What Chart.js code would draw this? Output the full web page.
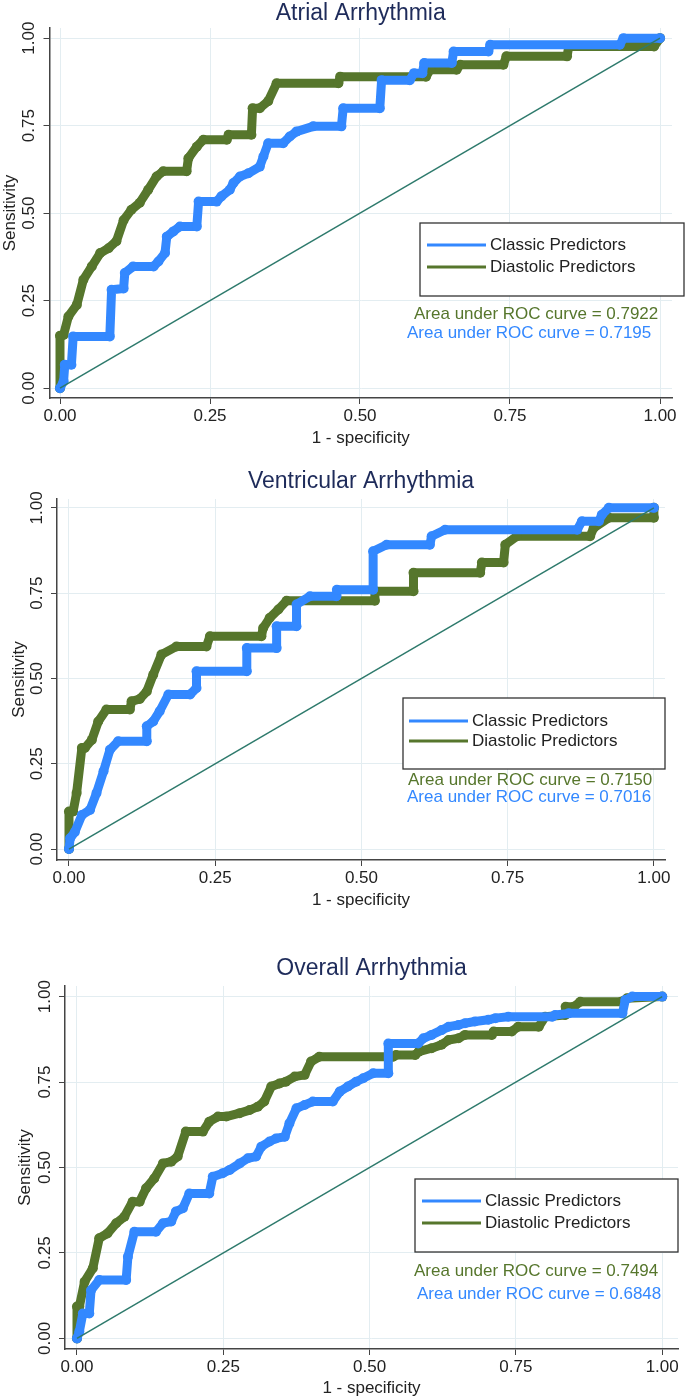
<!DOCTYPE html>
<html>
<head>
<meta charset="utf-8">
<title>ROC curves - arrhythmia</title>
<script src="https://cdn.jsdelivr.net/npm/chart.js@4.4.1/dist/chart.umd.min.js"></script>
<style>
  html, body { margin: 0; padding: 0; background: #fff; }
  .panel { position: absolute; left: 0; width: 685px; }
</style>
</head>
<body>
<div class="panel" style="top:0;height:455px"><canvas id="atrial"></canvas></div>
<div class="panel" style="top:460px;height:455px"><canvas id="ventricular"></canvas></div>
<div class="panel" style="top:950px;height:450px"><canvas id="overall"></canvas></div>
<script>
// axis ticks
const tickValues = [0, 0.25, 0.5, 0.75, 1];
const tickLabels = ['0.00', '0.25', '0.50', '0.75', '1.00'];

const seriesNames = ['Classic Predictors', 'Diastolic Predictors'];
const panelTitles = ['Atrial Arrhythmia', 'Ventricular Arrhythmia', 'Overall Arrhythmia'];
const aucClassic = [0.7195, 0.7016, 0.6848];
const aucDiastolic = [0.7922, 0.7150, 0.7494];

// reference (chance) line
const chanceLine = [[0, 0], [1, 1]];

// ROC points, [1 - specificity, sensitivity]
const atrialClassic = [[0,0],[0.006,0.02],[0.008,0.067],[0.019,0.067],[0.022,0.148],[0.083,0.148],[0.086,0.281],[0.106,0.285],[0.108,0.329],[0.122,0.348],[0.156,0.348],[0.164,0.362],[0.175,0.386],[0.178,0.433],[0.189,0.448],[0.2,0.462],[0.228,0.462],[0.231,0.533],[0.261,0.533],[0.269,0.548],[0.283,0.567],[0.289,0.586],[0.3,0.605],[0.314,0.614],[0.333,0.633],[0.339,0.662],[0.347,0.70],[0.372,0.70],[0.383,0.719],[0.394,0.733],[0.422,0.748],[0.469,0.748],[0.472,0.80],[0.533,0.80],[0.536,0.88],[0.583,0.88],[0.59,0.90],[0.604,0.90],[0.607,0.929],[0.653,0.929],[0.656,0.962],[0.714,0.962],[0.717,0.981],[0.933,0.981],[0.939,1],[1,1]];
const atrialDiastolic = [[0,0],[0,0.15],[0.006,0.152],[0.014,0.205],[0.028,0.238],[0.039,0.31],[0.053,0.348],[0.067,0.386],[0.081,0.40],[0.094,0.42],[0.106,0.48],[0.119,0.51],[0.133,0.53],[0.147,0.567],[0.161,0.605],[0.172,0.62],[0.211,0.62],[0.214,0.657],[0.228,0.69],[0.239,0.71],[0.278,0.71],[0.281,0.724],[0.319,0.724],[0.321,0.80],[0.333,0.80],[0.347,0.82],[0.361,0.871],[0.464,0.871],[0.467,0.89],[0.61,0.89],[0.617,0.91],[0.661,0.91],[0.667,0.924],[0.739,0.924],[0.744,0.948],[0.845,0.948],[0.848,0.976],[0.99,0.976],[1,1]];

const ventricularClassic = [[0,0],[0.002,0.032],[0.01,0.05],[0.022,0.10],[0.036,0.115],[0.047,0.164],[0.059,0.228],[0.07,0.291],[0.084,0.316],[0.133,0.316],[0.133,0.36],[0.144,0.374],[0.155,0.404],[0.17,0.453],[0.207,0.453],[0.218,0.472],[0.218,0.521],[0.304,0.521],[0.304,0.589],[0.355,0.589],[0.355,0.653],[0.389,0.653],[0.389,0.717],[0.412,0.741],[0.457,0.741],[0.458,0.76],[0.52,0.76],[0.52,0.873],[0.543,0.892],[0.617,0.892],[0.62,0.917],[0.643,0.936],[0.869,0.936],[0.877,0.961],[0.906,0.961],[0.911,0.98],[0.923,1],[1,1]];
const ventricularDiastolic = [[0,0],[0,0.11],[0.007,0.11],[0.013,0.164],[0.022,0.296],[0.027,0.296],[0.039,0.32],[0.05,0.374],[0.064,0.409],[0.104,0.409],[0.107,0.433],[0.121,0.44],[0.133,0.462],[0.144,0.511],[0.158,0.57],[0.184,0.594],[0.235,0.594],[0.241,0.624],[0.329,0.624],[0.332,0.648],[0.343,0.677],[0.358,0.702],[0.372,0.728],[0.523,0.728],[0.523,0.756],[0.589,0.756],[0.589,0.81],[0.703,0.81],[0.706,0.84],[0.743,0.84],[0.746,0.892],[0.766,0.917],[0.891,0.917],[0.897,0.941],[0.923,0.971],[1,0.971],[1,1]];

const overallClassic = [[0,0],[0.004,0.02],[0.01,0.073],[0.021,0.073],[0.024,0.141],[0.038,0.171],[0.084,0.171],[0.087,0.239],[0.098,0.312],[0.135,0.312],[0.147,0.337],[0.161,0.342],[0.169,0.371],[0.181,0.381],[0.192,0.424],[0.226,0.424],[0.232,0.473],[0.249,0.483],[0.261,0.493],[0.278,0.512],[0.292,0.527],[0.306,0.532],[0.315,0.561],[0.329,0.576],[0.34,0.585],[0.355,0.59],[0.363,0.629],[0.375,0.673],[0.389,0.683],[0.403,0.693],[0.437,0.693],[0.449,0.722],[0.463,0.737],[0.477,0.751],[0.489,0.761],[0.506,0.776],[0.532,0.776],[0.532,0.863],[0.583,0.863],[0.592,0.878],[0.606,0.888],[0.623,0.902],[0.635,0.912],[0.652,0.917],[0.663,0.922],[0.68,0.927],[0.703,0.932],[0.715,0.937],[0.737,0.941],[0.812,0.941],[0.817,0.946],[0.84,0.951],[0.932,0.951],[0.937,0.99],[0.949,1],[1,1]];
const overallDiastolic = [[0,0],[0,0.093],[0.004,0.093],[0.013,0.166],[0.027,0.205],[0.038,0.293],[0.052,0.307],[0.067,0.337],[0.081,0.356],[0.095,0.40],[0.107,0.40],[0.118,0.439],[0.132,0.468],[0.147,0.512],[0.161,0.517],[0.172,0.532],[0.186,0.605],[0.215,0.605],[0.226,0.634],[0.241,0.649],[0.255,0.649],[0.278,0.659],[0.295,0.668],[0.309,0.678],[0.32,0.693],[0.332,0.737],[0.346,0.746],[0.357,0.751],[0.372,0.766],[0.389,0.771],[0.4,0.81],[0.414,0.824],[0.54,0.824],[0.545,0.829],[0.578,0.829],[0.584,0.839],[0.606,0.849],[0.623,0.859],[0.635,0.873],[0.652,0.878],[0.663,0.888],[0.709,0.888],[0.712,0.898],[0.743,0.898],[0.754,0.912],[0.789,0.912],[0.80,0.941],[0.834,0.946],[0.835,0.97],[0.849,0.97],[0.86,0.985],[0.93,0.985],[0.94,0.995],[1,1]];

const BLUE = '#3388ff';
const GREEN = '#56762c';
const TEAL = '#2e7a6c';
const FONT = '"Liberation Sans", Arial, Helvetica, sans-serif';
Chart.defaults.font.family = FONT;

// rotated y tick labels, legend box and AUC notes
const rocDecor = {
  id: 'rocDecor',
  afterDraw(chart, args, o) {
    const { ctx, chartArea, scales } = chart;
    ctx.save();
    ctx.font = '17px ' + FONT;
    ctx.fillStyle = '#222';
    ctx.textAlign = 'center';
    ctx.textBaseline = 'middle';
    scales.y.ticks.forEach((t, i) => {
      ctx.save();
      ctx.translate(chartArea.left - 20, scales.y.getPixelForValue(t.value));
      ctx.rotate(-Math.PI / 2);
      ctx.fillText(tickLabels[i], 0, 0);
      ctx.restore();
    });

    const b = o.box;
    ctx.fillStyle = '#fff';
    ctx.fillRect(b[0], b[1], b[2] - b[0], b[3] - b[1]);
    ctx.strokeStyle = '#333';
    ctx.lineWidth = 1.3;
    ctx.strokeRect(b[0], b[1], b[2] - b[0], b[3] - b[1]);
    ctx.font = '17px ' + FONT;
    ctx.textAlign = 'left';
    [1, 2].forEach((di, k) => {
      const ds = chart.data.datasets[di];
      const ry = o.rows[k];
      ctx.strokeStyle = ds.borderColor;
      ctx.lineWidth = 3;
      ctx.beginPath();
      ctx.moveTo(o.line[0], ry);
      ctx.lineTo(o.line[1], ry);
      ctx.stroke();
      ctx.fillStyle = '#222';
      ctx.fillText(ds.label, o.textX, ry);
    });

    o.notes.forEach(n => {
      ctx.fillStyle = n.color;
      ctx.fillText('Area under ROC curve = ' + n.value.toFixed(4), n.x, n.y);
    });
    ctx.restore();
  }
};

function rocChart(id, idx, classic, diastolic, lay) {
  const toXY = pts => pts.map(p => ({ x: p[0], y: p[1] }));
  const curve = (label, pts, color, order) => ({
    label, data: toXY(pts), showLine: true, order,
    borderColor: color, backgroundColor: color,
    borderWidth: 9, borderJoinStyle: 'round', borderCapStyle: 'round',
    pointRadius: 5, pointBorderWidth: 0, pointHoverRadius: 5
  });

  return new Chart(document.getElementById(id), {
    type: 'scatter',
    data: {
      datasets: [
        { label: 'reference', data: toXY(chanceLine), showLine: true, order: 0,
          borderColor: TEAL, borderWidth: 1.5, pointRadius: 0 },
        curve(seriesNames[0], classic, BLUE, 1),
        curve(seriesNames[1], diastolic, GREEN, 2)
      ]
    },
    plugins: [rocDecor],
    options: {
      responsive: true,
      maintainAspectRatio: false,
      animation: false,
      layout: { padding: { left: 0, top: 0, bottom: 0, right: 685 - lay.right } },
      plugins: {
        legend: { display: false },
        tooltip: { enabled: false },
        title: {
          display: true, text: panelTitles[idx], fullSize: false,
          color: '#1e2b5a', font: { size: 23, weight: 'normal' },
          padding: { top: lay.titleTop, bottom: lay.titleBottom }
        },
        rocDecor: {
          box: lay.box, rows: lay.rows, line: lay.line, textX: lay.textX,
          notes: [
            { value: aucDiastolic[idx], color: GREEN, x: lay.aucD[0], y: lay.aucD[1] },
            { value: aucClassic[idx], color: BLUE, x: lay.aucC[0], y: lay.aucC[1] }
          ]
        }
      },
      scales: {
        x: {
          type: 'linear', min: lay.xMin, max: lay.xMax,
          afterBuildTicks: s => { s.ticks = tickValues.map(v => ({ value: v })); },
          afterFit: s => { s.height = lay.h - lay.bottom; },
          ticks: { callback: (v, i) => tickLabels[i], color: '#222', font: { size: 17 }, padding: 2, maxRotation: 0 },
          grid: { color: '#e3edf1', tickColor: '#444', tickLength: 6 },
          border: { color: '#444', width: 1.5 },
          title: { display: true, text: '1 - specificity', color: '#222', font: { size: 17 },
                   padding: { top: 0, bottom: lay.xTitlePad } }
        },
        y: {
          type: 'linear', min: lay.yMin, max: lay.yMax,
          afterBuildTicks: s => { s.ticks = tickValues.map(v => ({ value: v })); },
          afterFit: s => { s.width = lay.left; },
          ticks: { display: false },
          grid: { color: '#e3edf1', tickColor: '#444', tickLength: 6 },
          border: { color: '#444', width: 1.5 },
          title: { display: true, text: 'Sensitivity', color: '#222', font: { size: 17 },
                   padding: { top: lay.yTitlePad, bottom: 0 } }
        }
      }
    }
  });
}

rocChart('atrial', 0, atrialClassic, atrialDiastolic, {
  h: 455, left: 49.5, right: 672, bottom: 398,
  xMin: -0.0175, xMax: 1.02, yMin: -0.028, yMax: 1.029,
  titleTop: 0, titleBottom: 0.4, xTitlePad: 6.8, yTitlePad: 0,
  box: [420, 223, 684, 296], rows: [245, 267], line: [427, 486], textX: 490,
  aucD: [414, 314], aucC: [407, 333]
});

rocChart('ventricular', 1, ventricularClassic, ventricularDiastolic, {
  h: 455, left: 57, right: 665, bottom: 400,
  xMin: -0.0205, xMax: 1.019, yMin: -0.032, yMax: 1.026,
  titleTop: 8.2, titleBottom: 3.2, xTitlePad: 4.8, yTitlePad: 8.8,
  box: [403, 238, 665, 309], rows: [261, 281], line: [409, 468], textX: 472,
  aucD: [408, 320], aucC: [407, 337]
});

rocChart('overall', 2, overallClassic, overallDiastolic, {
  h: 450, left: 65, right: 678, bottom: 399,
  xMin: -0.0205, xMax: 1.027, yMin: -0.031, yMax: 1.031,
  titleTop: 5.2, titleBottom: 3.2, xTitlePad: 1.8, yTitlePad: 15.3,
  box: [415, 229, 678, 302], rows: [251, 273], line: [422, 481], textX: 485,
  aucD: [414, 321], aucC: [417, 344]
});
</script>
</body>
</html>
